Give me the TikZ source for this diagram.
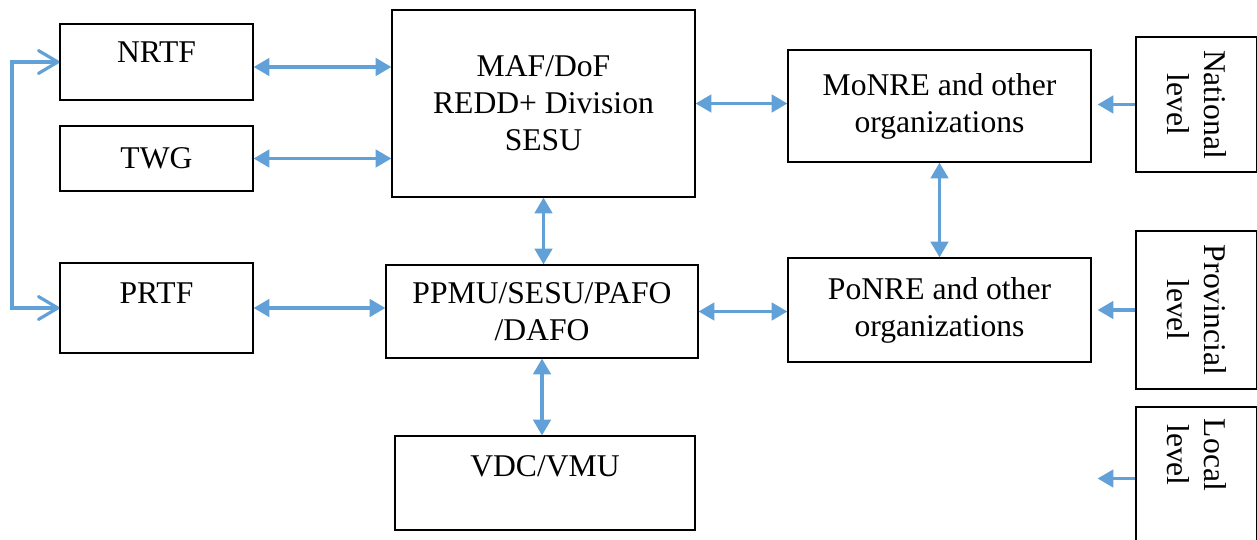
\documentclass[tikz,border=0pt]{standalone}
\usepackage{fontspec}
\setmainfont{Liberation Serif}
\usetikzlibrary{arrows.meta}
\definecolor{linkblue}{RGB}{98,160,216}

\begin{document}
\begin{tikzpicture}[
    box/.style={draw, line width=0.7pt, align=center, font=\fontsize{18}{21}\selectfont, inner sep=2pt},
    lvl/.style={box, rotate=-90, minimum height=2.42cm},
    link/.style={{Triangle[length=9pt,width=10pt]}-{Triangle[length=9pt,width=10pt]}, linkblue, line width=1.8pt},
    feed/.style={-{Triangle[length=9pt,width=10pt]}, linkblue, line width=1.8pt, shorten >=0.12cm},
    bracket/.style={{Straight Barb[length=11pt,width=13pt,line cap=round,line join=round]}-{Straight Barb[length=11pt,width=13pt,line cap=round,line join=round]}, linkblue, line width=1.8pt}
]
        \useasboundingbox (0,0) rectangle (25.14,-10.8);

        \node[box, minimum width=6.06cm, minimum height=3.74cm] (maf) at (10.87,-2.07) {MAF/DoF\\REDD+ Division\\SESU};
        \node[box, minimum width=6.24cm, minimum height=1.86cm] (ppmu) at ([xshift=-0.03cm, yshift=-4.16cm]maf.center) {PPMU/SESU/PAFO\\/DAFO};
        \node[box, minimum width=6cm, minimum height=1.88cm, text depth=0.68cm] (vdc) at ([xshift=0.06cm, yshift=-3.43cm]ppmu.center) {VDC/VMU};

        \node[box, minimum width=3.86cm, minimum height=1.52cm, text depth=0.4cm] (nrtf) at ([xshift=-7.74cm, yshift=0.83cm]maf.center) {NRTF};
        \node[box, minimum width=3.86cm, minimum height=1.3cm] (twg) at ([yshift=-1.93cm]nrtf.center) {TWG};
        \node[box, minimum width=3.86cm, minimum height=1.8cm, text depth=0.6cm] (prtf) at ([yshift=-4.92cm]nrtf.center) {PRTF};
        \coordinate (spine) at ([xshift=-2.89cm]twg.center);

        \node[box, minimum width=6.06cm, minimum height=2.24cm] (monre) at ([xshift=7.92cm, yshift=-0.05cm]maf.center) {MoNRE and other\\organizations};
        \node[box, minimum width=6.06cm, minimum height=2.08cm] (ponre) at ([yshift=-4.08cm]monre.center) {PoNRE and other\\organizations};

        \node[lvl, minimum width=2.7cm] (natl) at ([xshift=5.14cm, yshift=0.03cm]monre.center) {National\\level};
        \node[lvl, minimum width=3.16cm] (prov) at ([yshift=-4.11cm]natl.center) {Provincial\\level};
        \node[lvl, minimum width=2.86cm] (lcl) at ([yshift=-7.48cm]natl.center) {};
        \node[font=\fontsize{18}{21}\selectfont, rotate=-90, align=center] (lcltext) at ([yshift=-7.01cm]natl.center) {Local\\level};


        \draw [bracket] (nrtf.west) -| (spine) |- (prtf.west);

        \draw [link] ([yshift=-0.1cm]nrtf.east) -- ([yshift=-0.1cm]nrtf.east -| maf.west);
        \draw [link] (twg.east) -- (twg.east -| maf.west);
        \draw [link] (prtf.east) -- (prtf.east -| ppmu.west);

        \draw [link] (maf.east) -- (maf.east -| monre.west);
        \draw [link] (ppmu.east) -- (ppmu.east -| ponre.west);

        \draw [link] (maf.south) -- (maf.south |- ppmu.north);
        \draw [link] (ppmu.south) -- (ppmu.south |- vdc.north);
        \draw [link] (monre.south) -- (monre.south |- ponre.north);

        \draw [feed] (natl.south) -- (natl.south -| monre.east);
        \draw [feed] (prov.south) -- (prov.south -| ponre.east);
        \draw [feed] (lcl.south) -- (lcl.south -| ponre.east);

    \end{tikzpicture}
\end{document}
